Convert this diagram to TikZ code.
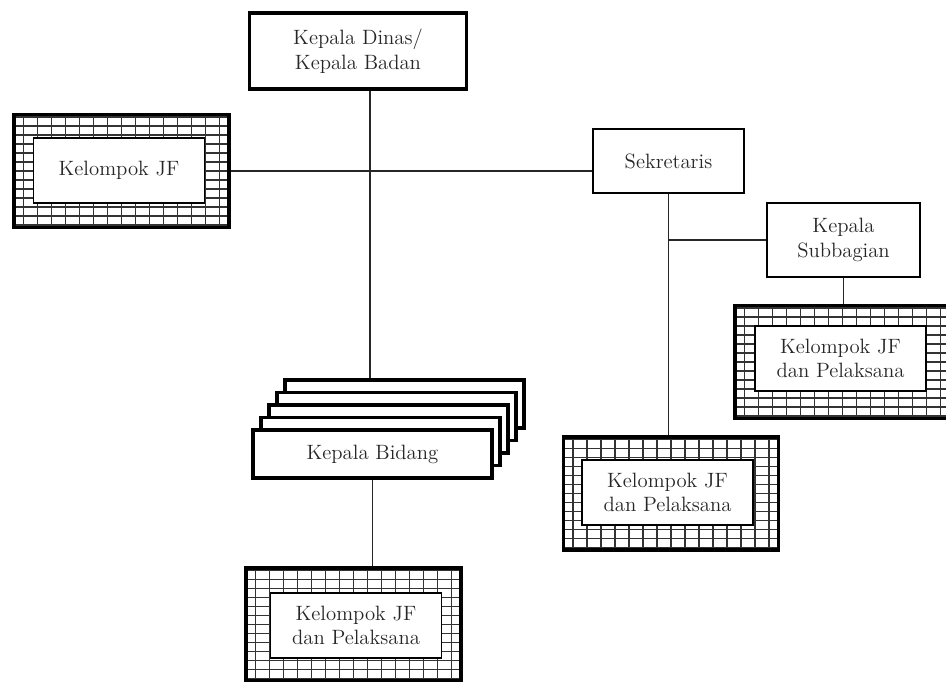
\documentclass[tikz,border=0pt]{standalone}
\usepackage{tikz}
\usetikzlibrary{positioning}

\begin{document}
\begin{tikzpicture}[
  x=0.02cm, y=-0.02cm,
  every node/.style={font=\fontsize{11.8}{14}\selectfont, text=black!85, align=center, inner sep=0pt},
  head/.style={draw, line width=2pt, fill=white, minimum width=4.34cm, minimum height=1.52cm},
  plain/.style={draw, line width=0.9pt, fill=white},
  stack/.style={draw, line width=1.8pt, fill=white, minimum width=4.78cm, minimum height=0.96cm},
  jfgrid/.style={draw, line width=2.2pt, fill=white, minimum width=4.3cm, minimum height=2.26cm,
    path picture={
      \draw[line width=1pt, black!80, xstep=2.8mm, ystep=1.8mm]
        (path picture bounding box.south west) grid (path picture bounding box.north east);}},
  jftext/.style={draw, fill=white, line width=0.7pt, minimum width=3.42cm, minimum height=1.3cm},
  link/.style={line width=0.8pt, black!85}
]
\useasboundingbox (0,0) rectangle (946,681);

\node[head] (dinas) at (358,51) {Kepala Dinas/\\Kepala Badan};
\node[plain, minimum width=3.02cm, minimum height=1.28cm] (sek) at (668.5,161) {Sekretaris};
\node[plain, minimum width=3.06cm, minimum height=1.48cm] (subbag) at (843.5,240) {Kepala\\Subbagian};

% kelompok jabatan fungsional
\node[jfgrid] (jfA) at (121.5,171) {};
\node[jftext] (jfAtext) at (119,170.5) {Kelompok JF};
\node[jfgrid] (jfB) at (842.5,362) {};
\node[jftext] (jfBtext) at (840.5,358.5) {Kelompok JF\\dan Pelaksana};
\node[jfgrid] (jfC) at (671,493.5) {};
\node[jftext] (jfCtext) at (667.5,492.5) {Kelompok JF\\dan Pelaksana};
\node[jfgrid] (jfD) at (353.5,624.5) {};
\node[jftext] (jfDtext) at (356,625.5) {Kelompok JF\\dan Pelaksana};

% bidang, stacked
\node[stack] (bidang4) at (404.5,404) {};
\node[stack] (bidang3) at (396.5,416.5) {};
\node[stack] (bidang2) at (388.5,429) {};
\node[stack] (bidang1) at (380.5,441.5) {};
\node[stack] (bidang0) at (372.5,454) {Kepala Bidang};

\coordinate (trunk) at (370,0);
\draw[link] (dinas.south -| trunk) -- (bidang4.north -| trunk);
\draw[link] (jfA.east) -- (jfA.east -| sek.west);
\draw[link] (sek.south) -- (sek.south |- jfC.north);
\draw[link] (sek.south |- subbag.west) -- (subbag.west);
\draw[link] (subbag.south) -- (subbag.south |- jfB.north);
\draw[link] (bidang0.south) -- (bidang0.south |- jfD.north);
\end{tikzpicture}
\end{document}
